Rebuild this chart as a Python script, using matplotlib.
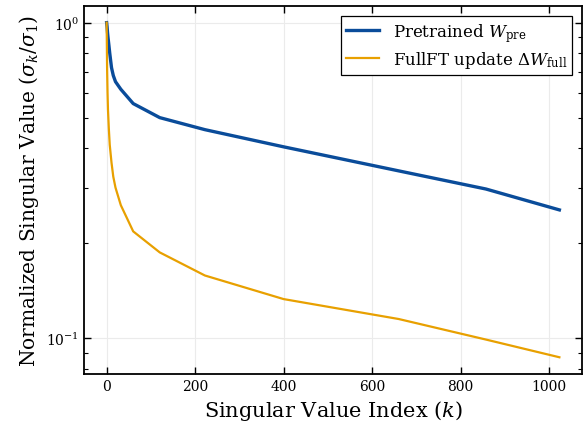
import numpy as np
import matplotlib
matplotlib.use("Agg")
import matplotlib.pyplot as plt
from matplotlib.ticker import LogLocator, NullFormatter

# data
k = [0, 1, 2, 3, 5, 7, 11, 15, 20, 32, 60, 120, 222, 400, 660, 857, 1023]
pretrained = [1.0, 0.97, 0.93, 0.90, 0.85, 0.80, 0.72, 0.68, 0.65, 0.615, 0.554, 0.50,
              0.458, 0.404, 0.339, 0.297, 0.255]
fullft = [1.0, 0.72, 0.60, 0.53, 0.46, 0.41, 0.36, 0.325, 0.30, 0.264, 0.218, 0.187,
          0.158, 0.133, 0.115, 0.099, 0.087]

plt.rcParams["font.family"] = "DejaVu Serif"
plt.rcParams["mathtext.fontset"] = "dejavuserif"

fig = plt.figure(figsize=(5.85, 4.27), dpi=100)
ax = fig.add_axes([0.1436, 0.1218, 0.8513, 0.862])

ax.plot(k, pretrained, color="#0A4C9A", lw=2.4, label=r"Pretrained $W_{\rm pre}$")
ax.plot(k, fullft, color="#E8A000", lw=1.6, label=r"FullFT update $\Delta W_{\rm full}$")

ax.set_yscale("log")
ax.yaxis.set_minor_locator(LogLocator(base=10, subs=np.arange(2, 10)))
ax.yaxis.set_minor_formatter(NullFormatter())
ax.set_xticks([0, 200, 400, 600, 800, 1000])
ax.grid(True, which="major", color="#ebebeb", lw=0.8)
ax.set_axisbelow(True)

ax.tick_params(which="both", direction="in", top=True, right=True, labelsize=10)
ax.tick_params(which="major", length=5, width=1)
ax.tick_params(which="minor", length=3, width=0.8)
for s in ax.spines.values():
    s.set_linewidth(1.3)

ax.set_xlabel(r"Singular Value Index ($k$)", fontsize=15)
ax.set_ylabel(r"Normalized Singular Value ($\sigma_k/\sigma_1$)", fontsize=14.5)

leg = ax.legend(loc="upper right", fontsize=12, fancybox=False, edgecolor="black",
                framealpha=1, labelspacing=0.3, borderpad=0.3, borderaxespad=0.6)
leg.get_frame().set_linewidth(0.9)

fig.savefig("out.png", dpi=100)
